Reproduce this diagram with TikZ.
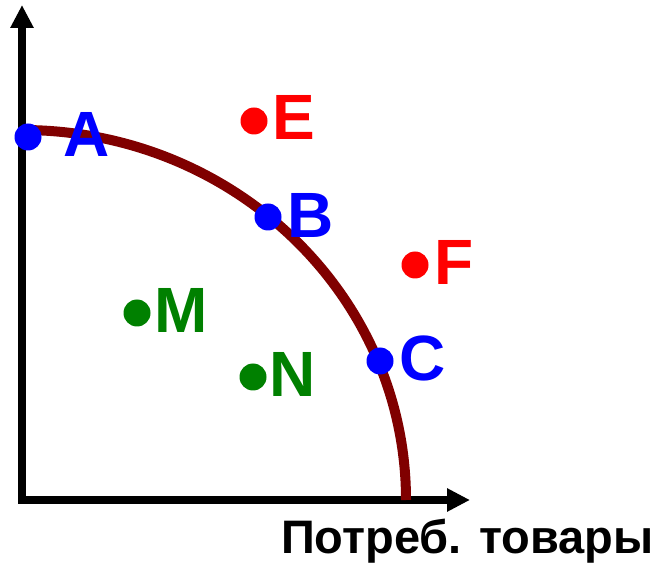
\documentclass[tikz,border=0pt]{standalone}
\usepackage{fontspec}
\setmainfont{Liberation Sans}
\usetikzlibrary{arrows.meta}
\definecolor{ppf}{RGB}{128,0,0}
\definecolor{dblue}{RGB}{0,0,255}
\definecolor{dred}{RGB}{255,0,0}
\definecolor{dgreen}{RGB}{0,128,0}
\tikzset{
  dot/.style={circle,fill=#1,inner sep=0pt,minimum size=27pt},
  lab/.style={text=#1,anchor=base west,inner sep=0pt,font=\fontsize{64}{64}\selectfont\bfseries},
  axis/.style={line width=8pt,{Triangle[length=23pt,width=22pt]}-{Triangle[length=23pt,width=22pt]}},
}
\begin{document}
\begin{tikzpicture}[x=1pt,y=1pt]
\useasboundingbox (0,0) rectangle (658,565);
\coordinate (ytop) at (22,560);
\coordinate (O) at (22,65);
\coordinate (xend) at (470,65);
\draw[axis] (ytop) -- (O) -- (xend);
\draw[ppf,line width=10pt] (22,435) arc[start angle=90,end angle=0,x radius=384,y radius=370];
\node[dot=dblue] (A) at (28,428) {};
\node[dot=dred] (E) at (254,444) {};
\node[dot=dblue] (B) at (268,348) {};
\node[dot=dred] (F) at (415,300) {};
\node[dot=dgreen] (M) at (137,252) {};
\node[dot=dgreen] (N) at (253,188) {};
\node[dot=dblue] (C) at (380,204) {};
\node[lab=dblue] (lA) at (63,408) {A};
\node[lab=dred] (lE) at (272,425) {E};
\node[lab=dblue] (lB) at (287,327) {B};
\node[lab=dred] (lF) at (434,280) {F};
\node[lab=dgreen] (lM) at (154,232) {M};
\node[lab=dgreen] (lN) at (269,168) {N};
\node[lab=dblue] (lC) at (399,184) {C};
\node[anchor=base west,inner sep=0pt,font=\fontsize{47}{47}\selectfont\bfseries] (xlab) at (281,12) {Потреб. товары};
\end{tikzpicture}
\end{document}
